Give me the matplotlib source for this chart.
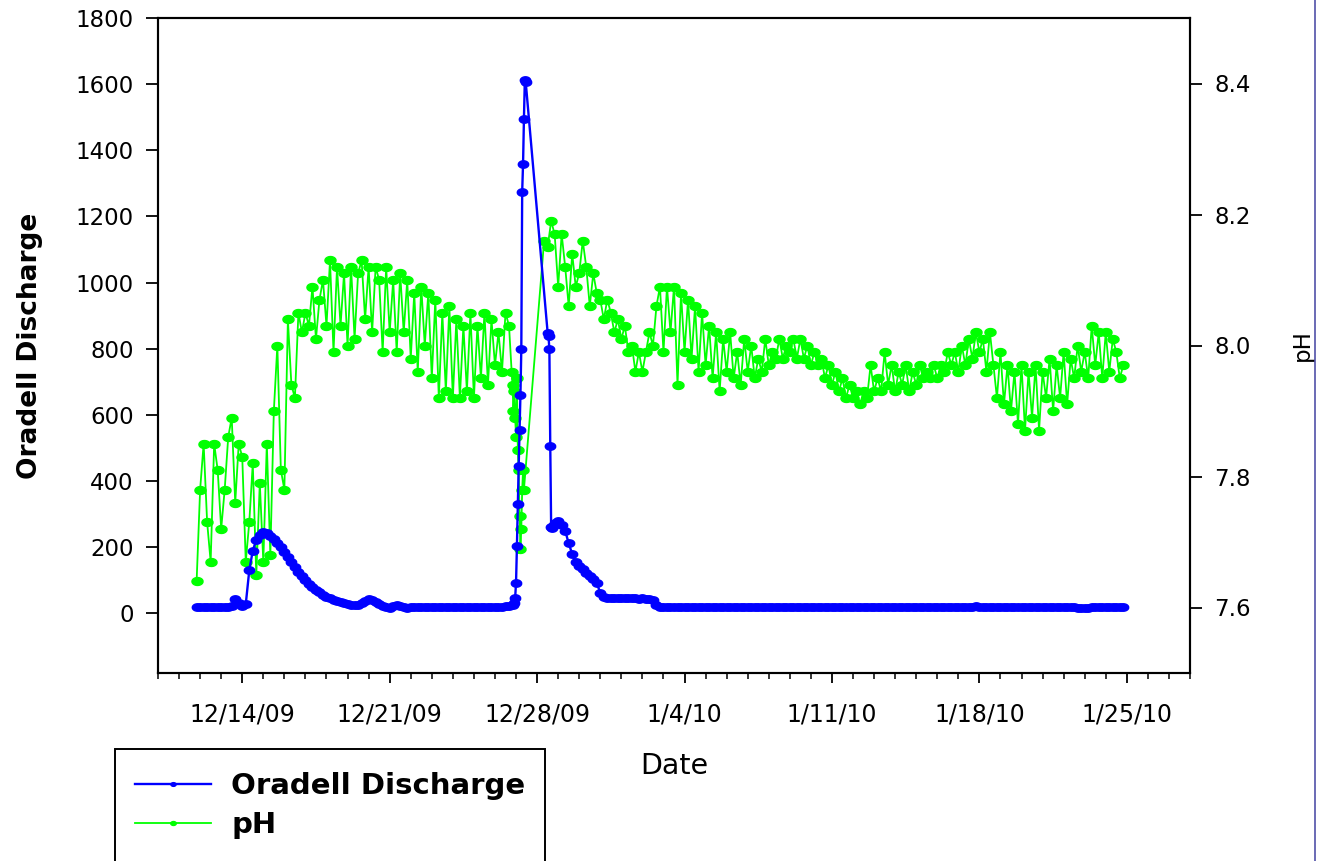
import numpy as np
import pandas as pd
import matplotlib
matplotlib.use("Agg")
import matplotlib.pyplot as plt
import matplotlib.dates as mdates
from matplotlib.lines import Line2D
from matplotlib.patches import Rectangle
from matplotlib.ticker import FuncFormatter

# Oradell discharge
# 4-hourly readings from 12/11/09 20:00
Q_START_1 = "2009-12-11 20:00"
Q_VALUES_1 = [
    20, 20, 20, 20, 20, 21, 20, 20, 20, 21, 22,
    45, 32, 22, 28, 130, 190, 222, 238, 245, 243,
    235, 226, 214, 200, 185, 170, 155, 140, 126, 113,
    100, 90, 80, 72, 64, 57, 51, 46, 41, 37,
    34, 31, 29, 27, 26, 27, 31, 38, 44, 42,
    35, 29, 24, 20, 17, 22, 27, 23, 19, 18,
    19, 20, 20, 20, 20, 20, 20, 20, 20, 20,
    20, 20, 20, 20, 20, 20, 20, 20, 20, 20,
    20, 20, 20, 20, 20, 20, 21, 22, 24,
]
# hourly readings during the storm rise
Q_START_2 = "2009-12-26 21:00"
Q_VALUES_2 = [27, 32, 48, 93, 203, 330, 445, 555, 660, 798, 1275, 1360, 1495, 1612, 1607]
# hourly readings after the data gap
Q_START_3 = "2009-12-28 12:00"
Q_VALUES_3 = [849, 838, 798, 505, 262, 258, 265]
# 4-hourly recession and baseflow
Q_START_4 = "2009-12-28 20:00"
Q_VALUES_4 = [
    272, 280, 268, 250, 212, 180, 156, 143, 133, 122, 113, 104, 92, 62, 50,
    48, 48, 47, 48, 47, 46, 47, 46, 46, 45, 46, 45, 44,
    40, 25, 21,
    20, 20, 20, 21, 20, 20, 20, 20, 19, 20, 20, 20,
    20, 20, 20, 20, 21, 20, 20, 20, 20, 20, 20, 19,
    20, 20, 20, 20, 20, 20, 21, 20, 20, 20, 20, 20,
    20, 20, 19, 20, 20, 20, 20, 20, 20, 21, 20, 20,
    20, 20, 20, 20, 20, 20, 20, 20, 20, 20, 19, 20,
    20, 20, 20, 20, 21, 20, 20, 20, 20, 20, 20, 20,
    20, 20, 20, 20, 20, 19, 20, 20, 20, 20, 20, 20,
    20, 20, 20, 20, 21, 22, 21, 20, 20, 20, 20, 20,
    20, 20, 20, 20, 20, 20, 20, 20, 20, 20, 20, 20,
    20, 20, 20, 20, 19, 20, 20, 20, 20, 20, 18, 17,
    17, 18, 19, 20, 20, 20, 20, 20, 20, 20, 20, 19,
]

# pH
PH_START_1 = "2009-12-11 20:00"
PH_VALUES_1 = [
    7.64, 7.78, 7.85, 7.73, 7.67, 7.85, 7.81, 7.72, 7.78, 7.86,
    7.89, 7.76, 7.85, 7.83, 7.67, 7.73, 7.82, 7.65, 7.79, 7.67,
    7.85, 7.68, 7.90, 8.00, 7.81, 7.78, 8.04, 7.94, 7.92, 8.05,
    8.02, 8.05, 8.03, 8.09, 8.01, 8.07, 8.10, 8.03, 8.13, 7.99,
    8.12, 8.03, 8.11, 8.00, 8.12, 8.01, 8.11, 8.13, 8.04, 8.12,
    8.02, 8.12, 8.10, 7.99, 8.12, 8.02, 8.10, 7.99, 8.11, 8.02,
    8.10, 7.98, 8.08, 7.96, 8.09, 8.00, 8.08, 7.95, 8.07, 7.92,
    8.05, 7.93, 8.06, 7.92, 8.04, 7.92, 8.03, 7.93, 8.05, 7.92,
    8.03, 7.95, 8.05, 7.94, 8.04, 7.97, 8.02, 7.96, 8.05, 8.03,
]
PH_START_2 = "2009-12-26 19:00"
PH_VALUES_2 = [7.96, 7.94, 7.90, 7.93, 7.89, 7.86, 7.95, 7.84, 7.81, 7.74,
               7.69, 7.72, 7.78, 7.81, 7.78]
PH_START_3 = "2009-12-28 08:00"
PH_VALUES_3 = [
    8.16, 8.15, 8.19, 8.17, 8.09, 8.17, 8.12, 8.06, 8.14, 8.09,
    8.11, 8.16, 8.12, 8.06, 8.11, 8.08, 8.07, 8.04, 8.07, 8.05,
    8.02, 8.04, 8.01, 8.03, 7.99, 8.00, 7.96, 7.99, 7.96, 7.99,
    8.02, 8.00, 8.06, 8.09, 7.99, 8.09, 8.02, 8.09, 7.94, 8.08,
    7.99, 8.07, 7.98, 8.06, 7.96, 8.05, 7.97, 8.03, 7.95, 8.02,
    7.93, 8.01, 7.96, 8.02, 7.95, 7.99, 7.94, 8.01, 7.96, 8.00,
    7.95, 7.98, 7.96, 8.01, 7.97, 7.99, 7.98, 8.01, 7.98, 8.00,
    7.99, 8.01, 7.98, 8.01, 7.98, 8.00, 7.97, 7.99, 7.97, 7.98,
    7.95, 7.97, 7.94, 7.96, 7.93, 7.95, 7.92, 7.94, 7.92, 7.93,
    7.91, 7.93, 7.92, 7.97, 7.93, 7.95, 7.93, 7.99, 7.94, 7.97,
    7.93, 7.96, 7.94, 7.97, 7.93, 7.96, 7.94, 7.97, 7.95, 7.96,
    7.95, 7.97, 7.95, 7.97, 7.96, 7.99, 7.97, 7.99, 7.96, 8.00,
    7.97, 8.01, 7.98, 8.02, 7.99, 8.01, 7.96, 8.02, 7.97, 7.92,
    7.99, 7.91, 7.97, 7.90, 7.96, 7.88, 7.97, 7.87, 7.96, 7.89,
    7.97, 7.87, 7.96, 7.92, 7.98, 7.90, 7.97, 7.92, 7.99, 7.91,
    7.98, 7.95, 8.00, 7.96, 7.99, 7.95, 8.03, 7.97, 8.02, 7.95,
    8.02, 7.96, 8.01, 7.99, 7.95, 7.97,
]


def series(pieces):
    times = []
    vals = []
    for start, step, values in pieces:
        times.append(pd.date_range(start, periods=len(values), freq=step))
        vals.extend(values)
    return times[0].append(times[1:]), np.array(vals, dtype=float)


q_t, q_v = series([(Q_START_1, "4h", Q_VALUES_1), (Q_START_2, "1h", Q_VALUES_2),
                   (Q_START_3, "1h", Q_VALUES_3), (Q_START_4, "4h", Q_VALUES_4)])
ph_t, ph_v = series([(PH_START_1, "4h", PH_VALUES_1), (PH_START_2, "1h", PH_VALUES_2),
                     (PH_START_3, "4h", PH_VALUES_3)])

# slightly wide dots, like the original
_a = np.linspace(0, 2 * np.pi, 40)
DOT = list(zip(1.4 * np.cos(_a), np.sin(_a)))

fig = plt.figure(figsize=(13.21, 8.61), dpi=100)
ax = fig.add_axes([158 / 1321, 1 - 673 / 861, 1032 / 1321, 655 / 861])
ax2 = ax.twinx()

l1, = ax.plot(q_t, q_v, color="#0000ff", lw=1.7, marker=DOT, ms=7.5, mec="#0000ff",
              label="Oradell Discharge")
l2, = ax2.plot(ph_t, ph_v, color="#00ff00", lw=1.3, marker=DOT, ms=8, mec="#00ff00",
               label="pH")
ax.set_zorder(ax2.get_zorder() + 1)
ax.patch.set_visible(False)

ax.set_ylim(-180, 1800)
ax.set_yticks(np.arange(0, 1801, 200))
ax2.set_ylim(7.5, 8.5)
ax2.set_yticks([7.6, 7.8, 8.0, 8.2, 8.4])
ax2.yaxis.set_major_formatter(FuncFormatter(lambda v, p: f"{v:.1f}"))

ax.set_xlim(pd.Timestamp("2009-12-10"), pd.Timestamp("2010-01-28"))
ax.xaxis.set_major_locator(mdates.WeekdayLocator(byweekday=mdates.MO))
ax.xaxis.set_minor_locator(mdates.DayLocator())
ax.xaxis.set_major_formatter(FuncFormatter(
    lambda v, p: (lambda d: f"{d.month}/{d.day}/{d:%y}")(mdates.num2date(v))))

for a in (ax, ax2):
    for s in a.spines.values():
        s.set_linewidth(1.5)
ax.tick_params(axis="y", direction="out", length=8.5, width=1.3, pad=9, labelsize=16.5)
ax2.tick_params(axis="y", direction="out", length=8.5, width=1.3, pad=9, labelsize=16.5)
ax.tick_params(axis="x", which="major", direction="out", length=7, width=1.3, pad=14, labelsize=17)
ax.tick_params(axis="x", which="minor", direction="out", length=4.5, width=1.1)

ax.set_xlabel("Date", fontsize=20.5, va="center")
ax.xaxis.set_label_coords(0.5, (673 - 766) / 655)
ax.set_ylabel("Oradell Discharge", fontsize=19, fontweight="bold", va="center")
ax.yaxis.set_label_coords((30 - 158) / 1032, 0.5)
ax2.set_ylabel("pH", fontsize=16.5, va="center", rotation=90)
ax2.yaxis.set_label_coords((1302 - 158) / 1032, 0.5)

fig.legend([l1, l2], ["Oradell Discharge", "pH"], loc="upper left",
           bbox_to_anchor=(135 / 1321, 1 - 772 / 861), frameon=False,
           prop={"size": 21, "weight": "bold"}, handlelength=2.6, handletextpad=0.7,
           labelspacing=0.37, borderpad=0, borderaxespad=0, numpoints=1, markerscale=0.5)
fig.add_artist(Rectangle((115 / 1321, -0.02), 430 / 1321, 1 - 749 / 861 + 0.02,
                         transform=fig.transFigure, fill=False, lw=1.4, ec="black"))
fig.add_artist(Line2D([1315 / 1321] * 2, [0, 1], transform=fig.transFigure,
                      color="#5050a8", lw=1.2))

fig.savefig("out.png", dpi=100)
